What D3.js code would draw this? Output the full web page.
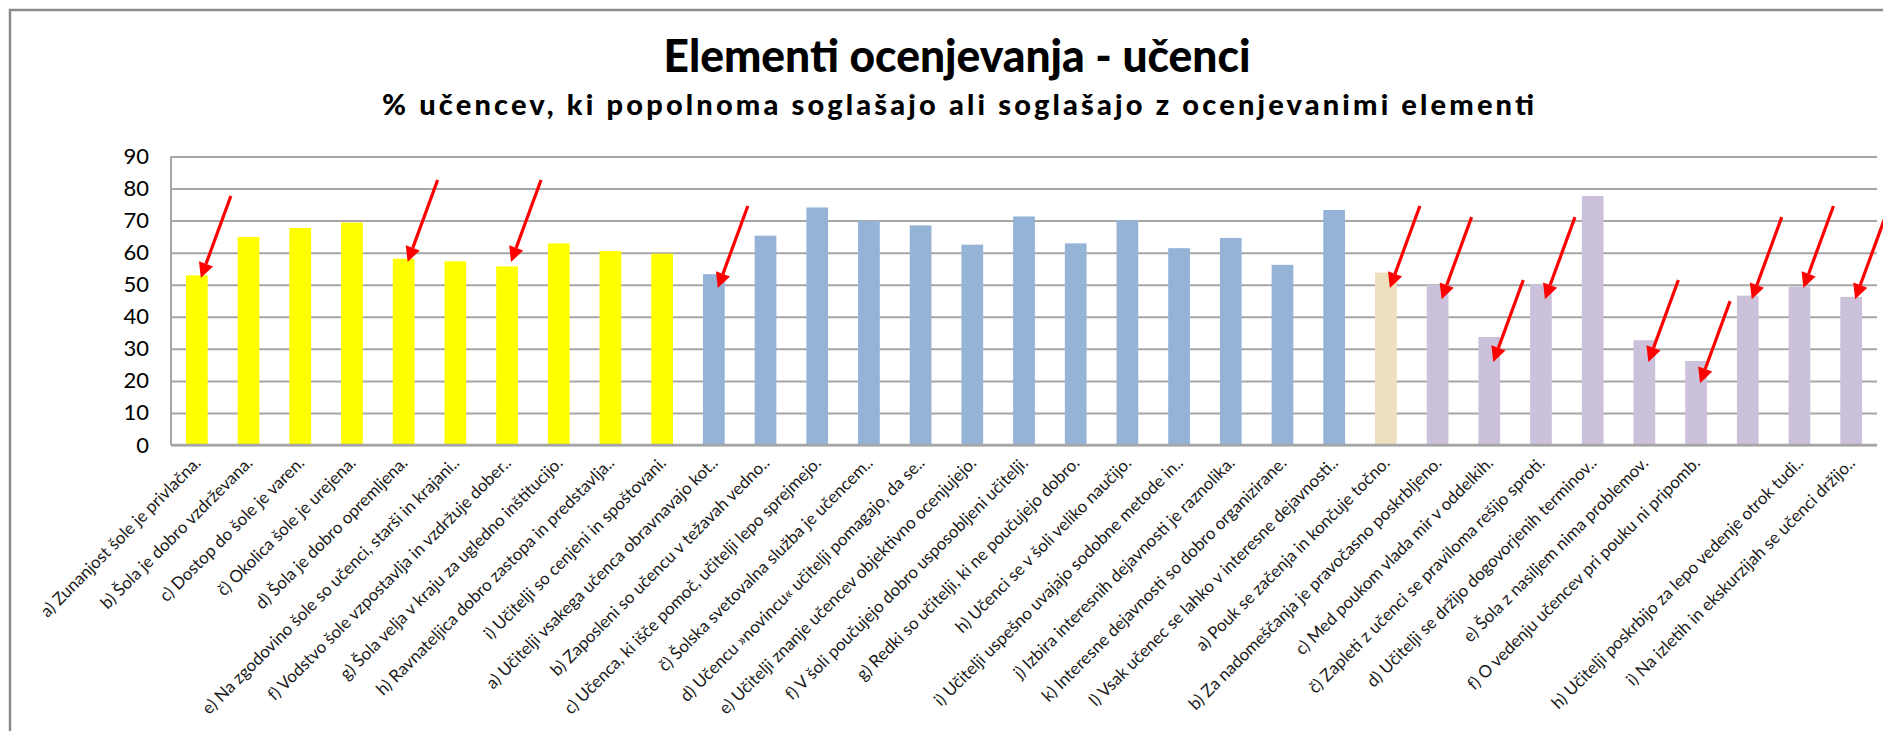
<!DOCTYPE html>
<html>
<head>
<meta charset="utf-8">
<script src="https://cdn.jsdelivr.net/npm/d3@7"></script>
<style>
  body { margin:0; background:#fff; }
  svg { display:block; font-family: Lato, 'Open Sans', sans-serif; }
</style>
</head>
<body>
<script>
// kategorije (oznake na osi x), tako kot so izpisane na grafu
const categories = [
  'a) Zunanjost šole je privlačna.',
  'b) Šola je dobro vzdrževana.',
  'c) Dostop do šole je varen.',
  'č) Okolica šole je urejena.',
  'd) Šola je dobro opremljena.',
  'e) Na zgodovino šole so učenci, starši in krajani..',
  'f) Vodstvo šole vzpostavlja in vzdržuje dober..',
  'g) Šola velja v kraju za ugledno inštitucijo.',
  'h) Ravnateljica dobro zastopa in predstavlja..',
  'i) Učitelji so cenjeni in spoštovani.',
  'a) Učitelji vsakega učenca obravnavajo kot..',
  'b) Zaposleni so učencu v težavah vedno..',
  'c) Učenca, ki išče pomoč, učitelji lepo sprejmejo.',
  'č) Šolska svetovalna služba je učencem..',
  'd) Učencu »novincu« učitelji pomagajo, da se..',
  'e) Učitelji znanje učencev objektivno ocenjujejo.',
  'f) V šoli poučujejo dobro usposobljeni učitelji.',
  'g) Redki so učitelji, ki ne poučujejo dobro.',
  'h) Učenci se v šoli veliko naučijo.',
  'i) Učitelji uspešno uvajajo sodobne metode in..',
  'j) Izbira interesnih dejavnosti je raznolika.',
  'k) Interesne dejavnosti so dobro organizirane.',
  'l) Vsak učenec se lahko v interesne dejavnosti..',
  'a) Pouk se začenja in končuje točno.',
  'b) Za nadomeščanja je pravočasno poskrbljeno.',
  'c) Med poukom vlada mir v oddelkih.',
  'č) Zapleti z učenci se praviloma rešijo sproti.',
  'd) Učitelji se držijo dogovorjenih terminov..',
  'e) Šola z nasiljem nima problemov.',
  'f) O vedenju učencev pri pouku ni pripomb.',
  '',
  'h) Učitelji poskrbijo za lepo vedenje otrok tudi..',
  'i) Na izletih in ekskurzijah se učenci držijo..'
];

// % ucencev (odcitano s slike)
const values = [
  52.9, 64.9, 67.7, 69.4, 58.1, 57.3, 55.7, 62.9, 60.5, 59.7,
  53.3, 65.3, 74.1, 70.0, 68.5, 62.5, 71.3, 62.9, 70.1, 61.4, 64.6, 56.2, 73.3,
  53.8,
  49.9, 33.7, 50.1, 77.7, 32.7, 26.2, 46.6, 49.4, 46.2
];

// skupina vsakega elementa
const groups = [
  'sola','sola','sola','sola','sola','sola','sola','sola','sola','sola',
  'ucitelji','ucitelji','ucitelji','ucitelji','ucitelji','ucitelji','ucitelji',
  'ucitelji','ucitelji','ucitelji','ucitelji','ucitelji','ucitelji',
  'pouk',
  'red','red','red','red','red','red','red','red','red'
];
const groupNames = ['sola','ucitelji','pouk','red'];
const groupColors = ['#ffff00','#95b3d7','#eee0be','#ccc1da'];

const yTicks = [0,10,20,30,40,50,60,70,80,90];

// rdece puscice: indeks stolpca in vrednost, kamor kaze konica
const arrowBars = [0, 4, 6, 10, 23, 24, 25, 26, 28, 29, 30, 31, 32];
const arrowTips = [52.1, 57.1, 57.1, 49.0, 49.0, 45.5, 25.9, 45.5, 25.9, 19.3, 45.5, 49.0, 45.5];

const titleText = 'Elementi ocenjevanja - učenci';
const subtitleText = '% učencev, ki popolnoma soglašajo ali soglašajo z ocenjevanimi elementi';

render();

function render() {
    const svgWid = 1883;
    const svgHt = 731;
    const margin = {top:156.5, right:6, bottom:286, left:171};
    const svg = d3.select('body').append('svg').attr('width',svgWid).attr('height',svgHt);

    const innerW = svgWid - margin.left - margin.right;
    const innerH = svgHt - margin.top - margin.bottom;

    // okvir grafa (desni in spodnji rob sta odrezana)
    svg.append('path').attr('d',`M10,${svgHt+5}V10H${svgWid+5}`)
        .attr('fill','none').attr('stroke','#8a8a8a').attr('stroke-width',2.5);

    // naslov
    svg.append('text').text(titleText)
        .attr('x',957).attr('y',72).attr('text-anchor','middle')
        .attr('font-size',45).attr('font-weight',900).attr('fill','#000')
        .attr('textLength',587).attr('lengthAdjust','spacingAndGlyphs');
    svg.append('text').text(subtitleText)
        .attr('x',958).attr('y',115).attr('text-anchor','middle')
        .attr('font-size',29).attr('font-weight',900).attr('fill','#000')
        .attr('textLength',1152).attr('lengthAdjust','spacing');

    const g = svg.append('g').attr('transform',`translate(${margin.left},${margin.top})`);

    const yScale = d3.scaleLinear().domain([0,90]).range([innerH,0]);
    const xScale = d3.scaleBand().domain(d3.range(categories.length)).range([0,innerW]);
    const color = d3.scaleOrdinal().domain(groupNames).range(groupColors);

    // os y + mreza
    const yAxisG = g.append('g')
        .call(d3.axisLeft(yScale).tickValues(yTicks).tickSize(-innerW).tickPadding(22));
    yAxisG.select('.domain').remove();
    yAxisG.selectAll('.tick line').attr('stroke','#a6a6a6').attr('stroke-width',2);
    yAxisG.selectAll('.tick text').attr('font-size',22).attr('fill','#000')
        .attr('font-family','Lato, sans-serif');
    g.append('line').attr('x1',0).attr('x2',0).attr('y1',0).attr('y2',innerH)
        .attr('stroke','#a6a6a6').attr('stroke-width',2);

    // stolpci
    const bw = xScale.bandwidth();
    const barW = bw * 0.42;
    g.selectAll('rect.bar').data(values).enter()
        .append('rect').attr('class','bar')
        .attr('x',(d,i)=>xScale(i) + (bw-barW)/2)
        .attr('y',d=>yScale(d))
        .attr('width',barW)
        .attr('height',d=>innerH - yScale(d))
        .attr('fill',(d,i)=>color(groups[i]));

    // os x (crta na 0)
    g.append('line').attr('x1',0).attr('x2',innerW).attr('y1',innerH).attr('y2',innerH)
        .attr('stroke','#a6a6a6').attr('stroke-width',2.5);

    // oznake kategorij, zasukane za 45 stopinj
    g.selectAll('text.xlab').data(categories).enter()
        .append('text').attr('class','xlab')
        .text(d=>d)
        .attr('text-anchor','end')
        .attr('font-size',17)
        .attr('fill','#1a1a1a')
        .attr('transform',(d,i)=>`translate(${xScale(i)+bw/2+5},${innerH+19}) rotate(-45)`);

    // puscice
    const headLen = 15, headW = 7.5;
    arrowBars.forEach((b,k)=>{
        const tx = xScale(b) + bw/2 + 4;
        const ty = yScale(arrowTips[k]);
        const sx = tx + 30, sy = ty - 82;
        const len = Math.hypot(tx-sx, ty-sy);
        const ux = (tx-sx)/len, uy = (ty-sy)/len;
        const bx = tx - ux*headLen, by = ty - uy*headLen;
        g.append('line').attr('x1',sx).attr('y1',sy).attr('x2',bx).attr('y2',by)
            .attr('stroke','#ff0000').attr('stroke-width',3.2);
        g.append('path')
            .attr('d',`M${tx},${ty}L${bx-uy*headW},${by+ux*headW}L${bx+uy*headW},${by-ux*headW}Z`)
            .attr('fill','#ff0000');
    });
}
</script>
</body>
</html>
